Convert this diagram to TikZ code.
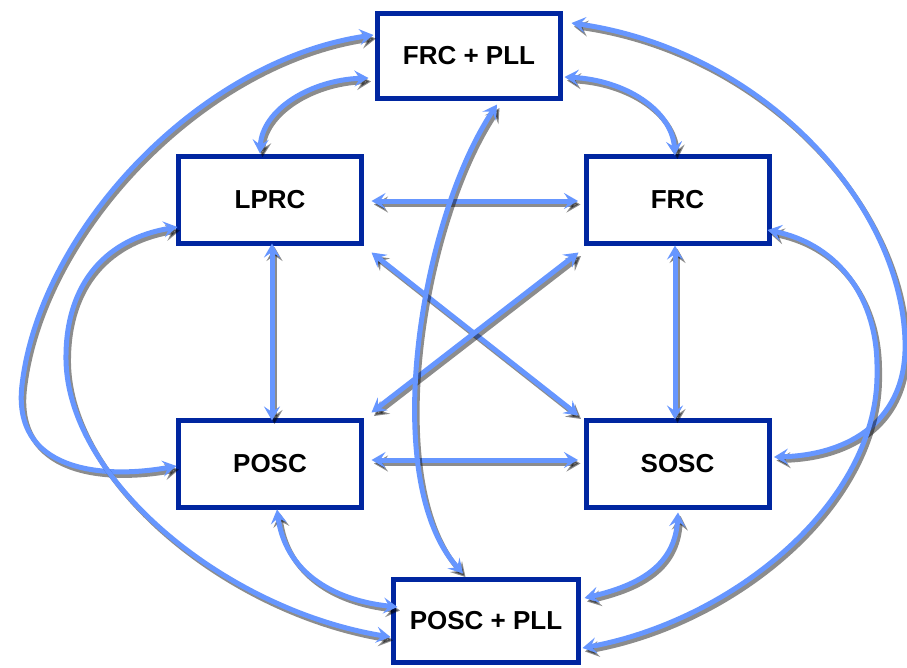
\documentclass[tikz,border=0pt]{standalone}
\usepackage{fontspec}
\setmainfont{Liberation Sans}
\usetikzlibrary{arrows.meta,calc}
\definecolor{boxblue}{RGB}{0,38,160}
\definecolor{linkblue}{RGB}{102,150,255}
\newcommand\boxfont{\fontsize{26}{30}\selectfont\bfseries}
% each link: a soft offset shadow first, then the blue double-headed stroke
\newcommand\linkpath[1]{%
  \draw[linkshadow] #1;
  \draw[linkbody] #1;}
\begin{document}
\begin{tikzpicture}[x=1pt,y=-1pt,
  stategbox/.style={draw=boxblue, line width=5pt, fill=white,
    minimum width=183pt, minimum height=87pt, inner sep=0pt, outer sep=0pt,
    font=\boxfont},
  tipshape/.style={>={Stealth[length=14pt,width=16pt,inset=5.5pt]}},
  linkbody/.style={draw=linkblue, line width=5pt, tipshape, <->},
  linkshadow/.style={draw=black, opacity=0.45, line width=5pt,
    tipshape, <->, transform canvas={shift={(2.5,3.5)}}}]
\useasboundingbox (0,0) rectangle (907,667);

% oscillator boxes
\node[stategbox, minimum height=85pt] (frcpll) at (469,56) {FRC + PLL};
\node[stategbox] (lprc) at (270,200) {LPRC};
\node[stategbox] (frc) at (677.5,200) {FRC};
\node[stategbox] (posc) at (270,464) {POSC};
\node[stategbox] (sosc) at (677.5,464) {SOSC};
\node[stategbox, minimum width=185pt, minimum height=83pt] (poscpll) at (486,621) {POSC + PLL};

% straight links
\linkpath{($(lprc.east)+(10,1)$) -- ($(frc.west)+(-8,1)$)}
\linkpath{($(posc.east)+(10,-4)$) -- ($(sosc.west)+(-8,-4)$)}
\linkpath{($(lprc.south)+(2,0)$) -- ($(posc.north)+(2,0)$)}
\linkpath{($(frc.south)+(-2.5,2)$) -- ($(sosc.north)+(-2.5,-1)$)}
\linkpath{($(lprc.south east)+(10,9)$) -- ($(sosc.north west)+(-7.5,-5)$)}
\linkpath{($(posc.north east)+(10,-8)$) -- ($(frc.south west)+(-7.5,9)$)}

% central curve between the two PLL boxes
\linkpath{($(frcpll.south)+(28,6)$) .. controls (420,220) and (378,480) .. ($(poscpll.north)+(-23,-6)$)}

% short arcs around the top and bottom boxes
\linkpath{($(frcpll.west)+(-9,22)$) .. controls (310,80) and (262,110) .. ($(lprc.north)+(-10,-3)$)}
\linkpath{($(frcpll.east)+(4,21)$) .. controls (625,80) and (672,110) .. ($(frc.north)+(-2.5,-1)$)}
\linkpath{($(posc.south)+(7,2)$) .. controls (285,570) and (330,600) .. ($(poscpll.west)+(4,-14)$)}
\linkpath{($(sosc.south)+(0.5,5)$) .. controls (675,565) and (640,585) .. ($(poscpll.east)+(6,-23)$)}

% wide outer arcs
\linkpath{($(frcpll.west)+(-4,-21)$) .. controls (200,60) and (40,230) .. (22,385)
  .. controls (12,470) and (100,480) .. ($(posc.west)+(-2,2)$)}
\linkpath{($(lprc.west)+(-1,27)$) .. controls (100,240) and (65,290) .. (66,360)
  .. controls (68,480) and (225,610) .. ($(poscpll.west)+(-3,16)$)}
\linkpath{($(frcpll.east)+(11,-33)$) .. controls (760,50) and (900,200) .. (905,340)
  .. controls (908,420) and (850,455) .. ($(sosc.east)+(5,-7)$)}
\linkpath{($(frc.east)+(-1.5,30)$) .. controls (840,245) and (878,300) .. (877,370)
  .. controls (880,500) and (735,620) .. ($(poscpll.east)+(4,27)$)}
\end{tikzpicture}
\end{document}
